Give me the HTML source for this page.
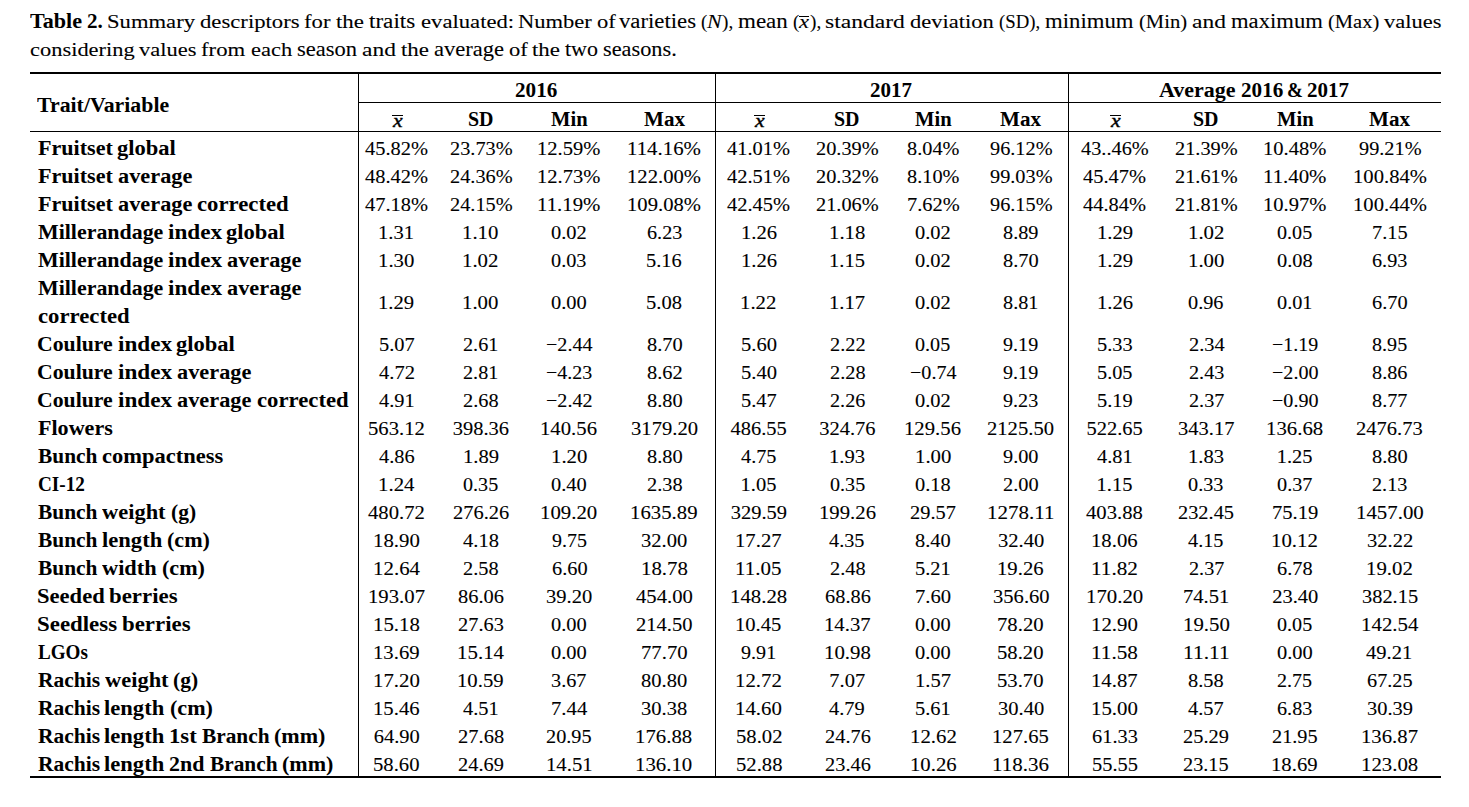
<!DOCTYPE html>
<html><head><meta charset='utf-8'><title>Table 2</title><style>
html,body{margin:0;padding:0;background:#fff;}
body{width:1469px;height:807px;position:relative;overflow:hidden;}
.w{position:absolute;white-space:pre;font-family:'Liberation Serif',serif;font-size:20.5px;line-height:0;color:#000;transform-origin:0 7px;}
.w{-webkit-text-stroke:0.1px #000;}.b{font-weight:700;-webkit-text-stroke:0.0px #000;}.i{font-style:italic;}
.l{position:absolute;background:#000;}
</style></head><body>
<div class='w b' style='left:29.86px;top:20.80px;transform:scale(1.0789,0.9800);'>Table</div>
<div class='w b' style='left:86.88px;top:20.80px;transform:scale(1.0275,0.9710);'>2.</div>
<div class='w' style='left:107.28px;top:20.80px;transform:scale(1.1038,0.9512);'>Summary</div>
<div class='w' style='left:200.04px;top:20.80px;transform:scale(1.1073,0.9600);'>descriptors</div>
<div class='w' style='left:304.32px;top:20.80px;transform:scale(1.1081,0.9600);'>for</div>
<div class='w' style='left:336.05px;top:20.80px;transform:scale(1.1186,0.9600);'>the</div>
<div class='w' style='left:369.31px;top:20.80px;transform:scale(1.1277,1.0133);'>traits</div>
<div class='w' style='left:420.55px;top:20.80px;transform:scale(1.1055,0.9600);'>evaluated:</div>
<div class='w' style='left:518.06px;top:20.80px;transform:scale(1.0998,0.9600);'>Number</div>
<div class='w' style='left:596.97px;top:20.80px;transform:scale(1.0992,0.9600);'>of</div>
<div class='w' style='left:619.31px;top:20.80px;transform:scale(1.1091,1.0133);'>varieties</div>
<div class='w' style='left:701.34px;top:20.80px;transform:scale(0.9286,0.9516);'>(</div>
<div class='w i' style='left:707.38px;top:20.80px;transform:scale(1.0678,0.9600);'>N</div>
<div class='w' style='left:721.91px;top:20.80px;transform:scale(0.9383,0.9516);'>),</div>
<div class='w' style='left:737.94px;top:20.80px;transform:scale(1.1229,1.0223);'>mean</div>
<div class='w' style='left:793.06px;top:20.80px;transform:scale(0.9286,0.9516);'>(</div>
<div class='w i' style='left:799.38px;top:20.90px;transform:scale(1.1027,0.9600);'>x</div>
<div class='l' style='left:799.00px;top:16.10px;width:10.10px;height:1.3px'></div>
<div class='w' style='left:809.57px;top:20.80px;transform:scale(0.9383,0.9516);'>),</div>
<div class='w' style='left:825.38px;top:20.80px;transform:scale(1.1499,0.9600);'>standard</div>
<div class='w' style='left:910.27px;top:20.80px;transform:scale(1.0980,0.9600);'>deviation</div>
<div class='w' style='left:999.20px;top:20.80px;transform:scale(0.9155,0.9516);'>(SD),</div>
<div class='w' style='left:1045.24px;top:20.80px;transform:scale(1.1108,1.0133);'>minimum</div>
<div class='w' style='left:1138.85px;top:20.80px;transform:scale(1.0054,0.9600);'>(Min)</div>
<div class='w' style='left:1192.03px;top:20.80px;transform:scale(1.1441,0.9600);'>and</div>
<div class='w' style='left:1230.96px;top:20.80px;transform:scale(1.1047,1.0133);'>maximum</div>
<div class='w' style='left:1327.86px;top:20.80px;transform:scale(1.0025,0.9516);'>(Max)</div>
<div class='w' style='left:1384.30px;top:20.80px;transform:scale(1.0969,0.9600);'>values</div>
<div class='w' style='left:30.18px;top:48.80px;transform:scale(1.0952,0.9600);'>considering</div>
<div class='w' style='left:139.48px;top:48.80px;transform:scale(1.0969,0.9600);'>values</div>
<div class='w' style='left:201.49px;top:48.80px;transform:scale(1.1093,0.9600);'>from</div>
<div class='w' style='left:250.80px;top:48.80px;transform:scale(1.0959,0.9600);'>each</div>
<div class='w' style='left:296.91px;top:48.80px;transform:scale(1.0981,1.0223);'>season</div>
<div class='w' style='left:362.00px;top:48.80px;transform:scale(1.1441,0.9600);'>and</div>
<div class='w' style='left:401.08px;top:48.80px;transform:scale(1.1186,0.9600);'>the</div>
<div class='w' style='left:434.16px;top:48.80px;transform:scale(1.1004,0.9714);'>average</div>
<div class='w' style='left:509.38px;top:48.80px;transform:scale(1.0992,0.9600);'>of</div>
<div class='w' style='left:531.95px;top:48.80px;transform:scale(1.1186,0.9600);'>the</div>
<div class='w' style='left:565.23px;top:48.80px;transform:scale(1.0711,1.0330);'>two</div>
<div class='w' style='left:603.19px;top:48.80px;transform:scale(1.0878,1.0223);'>seasons.</div>
<div class='w b' style='left:37.36px;top:105.00px;transform:scale(1.0648,0.9886);'>Trait/Variable</div>
<div class='w b' style='left:515.25px;top:89.70px;transform:scale(1.0316,0.9710);'>2016</div>
<div class='w b' style='left:870.26px;top:89.70px;transform:scale(1.0252,0.9710);'>2017</div>
<div class='w b' style='left:1159.12px;top:89.70px;transform:scale(1.0724,0.9709);'>Average</div>
<div class='w b' style='left:1240.57px;top:89.70px;transform:scale(1.0316,0.9710);'>2016</div>
<div class='w b' style='left:1287.45px;top:89.70px;transform:scale(0.9333,0.9710);'>&amp;</div>
<div class='w b' style='left:1307.42px;top:89.70px;transform:scale(1.0252,0.9710);'>2017</div>
<div class='w i' style='left:392.65px;top:119.75px;transform:scale(1.0595,0.9227);-webkit-text-stroke:0.45px #000;'>x</div>
<div class='l' style='left:391.89px;top:115.00px;width:10.80px;height:1.4px'></div>
<div class='w b' style='left:467.97px;top:118.60px;transform:scale(0.9741,0.9710);'>SD</div>
<div class='w b' style='left:551.03px;top:118.60px;transform:scale(1.0035,0.9886);'>Min</div>
<div class='w b' style='left:643.99px;top:118.60px;transform:scale(1.0286,0.9800);'>Max</div>
<div class='w i' style='left:754.96px;top:119.75px;transform:scale(1.0595,0.9227);-webkit-text-stroke:0.45px #000;'>x</div>
<div class='l' style='left:754.20px;top:115.00px;width:10.80px;height:1.4px'></div>
<div class='w b' style='left:834.47px;top:118.60px;transform:scale(0.9741,0.9710);'>SD</div>
<div class='w b' style='left:915.03px;top:118.60px;transform:scale(1.0035,0.9886);'>Min</div>
<div class='w b' style='left:1000.40px;top:118.60px;transform:scale(1.0286,0.9800);'>Max</div>
<div class='w i' style='left:1110.96px;top:119.75px;transform:scale(1.0595,0.9227);-webkit-text-stroke:0.45px #000;'>x</div>
<div class='l' style='left:1110.20px;top:115.00px;width:10.80px;height:1.4px'></div>
<div class='w b' style='left:1193.26px;top:118.60px;transform:scale(0.9741,0.9710);'>SD</div>
<div class='w b' style='left:1276.92px;top:118.60px;transform:scale(1.0035,0.9886);'>Min</div>
<div class='w b' style='left:1369.40px;top:118.60px;transform:scale(1.0286,0.9800);'>Max</div>
<div class='w b' style='left:37.60px;top:147.50px;transform:scale(1.0779,0.9886);'>Fruitset</div>
<div class='w b' style='left:116.93px;top:147.50px;transform:scale(1.0995,0.9800);'>global</div>
<div class='w' style='left:365.00px;top:147.50px;transform:scale(0.9980,0.9512);'>45.82%</div>
<div class='w' style='left:449.69px;top:147.50px;transform:scale(0.9919,0.9512);'>23.73%</div>
<div class='w' style='left:537.23px;top:147.50px;transform:scale(1.0041,0.9512);'>12.59%</div>
<div class='w' style='left:627.09px;top:147.50px;transform:scale(1.0178,0.9512);'>114.16%</div>
<div class='w' style='left:727.31px;top:147.50px;transform:scale(0.9980,0.9512);'>41.01%</div>
<div class='w' style='left:816.19px;top:147.50px;transform:scale(0.9919,0.9512);'>20.39%</div>
<div class='w' style='left:907.09px;top:147.50px;transform:scale(0.9903,0.9512);'>8.04%</div>
<div class='w' style='left:989.62px;top:147.50px;transform:scale(0.9899,0.9512);'>96.12%</div>
<div class='w' style='left:1080.99px;top:147.50px;transform:scale(0.9926,0.9512);'>43..46%</div>
<div class='w' style='left:1174.99px;top:147.50px;transform:scale(0.9919,0.9512);'>21.39%</div>
<div class='w' style='left:1263.12px;top:147.50px;transform:scale(1.0041,0.9512);'>10.48%</div>
<div class='w' style='left:1358.62px;top:147.50px;transform:scale(0.9899,0.9512);'>99.21%</div>
<div class='w b' style='left:37.60px;top:175.50px;transform:scale(1.0779,0.9886);'>Fruitset</div>
<div class='w b' style='left:117.68px;top:175.50px;transform:scale(1.0892,1.0150);'>average</div>
<div class='w' style='left:365.00px;top:175.50px;transform:scale(0.9980,0.9512);'>48.42%</div>
<div class='w' style='left:449.69px;top:175.50px;transform:scale(0.9919,0.9512);'>24.36%</div>
<div class='w' style='left:537.23px;top:175.50px;transform:scale(1.0041,0.9512);'>12.73%</div>
<div class='w' style='left:627.11px;top:175.50px;transform:scale(1.0070,0.9512);'>122.00%</div>
<div class='w' style='left:727.31px;top:175.50px;transform:scale(0.9980,0.9512);'>42.51%</div>
<div class='w' style='left:816.19px;top:175.50px;transform:scale(0.9919,0.9512);'>20.32%</div>
<div class='w' style='left:907.09px;top:175.50px;transform:scale(0.9903,0.9512);'>8.10%</div>
<div class='w' style='left:989.62px;top:175.50px;transform:scale(0.9899,0.9512);'>99.03%</div>
<div class='w' style='left:1083.31px;top:175.50px;transform:scale(0.9980,0.9512);'>45.47%</div>
<div class='w' style='left:1174.99px;top:175.50px;transform:scale(0.9919,0.9512);'>21.61%</div>
<div class='w' style='left:1263.10px;top:175.50px;transform:scale(1.0167,0.9512);'>11.40%</div>
<div class='w' style='left:1352.52px;top:175.50px;transform:scale(1.0070,0.9512);'>100.84%</div>
<div class='w b' style='left:37.60px;top:203.50px;transform:scale(1.0779,0.9886);'>Fruitset</div>
<div class='w b' style='left:117.68px;top:203.50px;transform:scale(1.0892,1.0150);'>average</div>
<div class='w b' style='left:197.40px;top:203.50px;transform:scale(1.1086,0.9800);'>corrected</div>
<div class='w' style='left:365.00px;top:203.50px;transform:scale(0.9980,0.9512);'>47.18%</div>
<div class='w' style='left:449.69px;top:203.50px;transform:scale(0.9919,0.9512);'>24.15%</div>
<div class='w' style='left:537.21px;top:203.50px;transform:scale(1.0167,0.9512);'>11.19%</div>
<div class='w' style='left:627.11px;top:203.50px;transform:scale(1.0070,0.9512);'>109.08%</div>
<div class='w' style='left:727.31px;top:203.50px;transform:scale(0.9980,0.9512);'>42.45%</div>
<div class='w' style='left:816.19px;top:203.50px;transform:scale(0.9919,0.9512);'>21.06%</div>
<div class='w' style='left:906.71px;top:203.50px;transform:scale(0.9975,0.9512);'>7.62%</div>
<div class='w' style='left:989.62px;top:203.50px;transform:scale(0.9899,0.9512);'>96.15%</div>
<div class='w' style='left:1083.31px;top:203.50px;transform:scale(0.9980,0.9512);'>44.84%</div>
<div class='w' style='left:1174.99px;top:203.50px;transform:scale(0.9919,0.9512);'>21.81%</div>
<div class='w' style='left:1263.12px;top:203.50px;transform:scale(1.0041,0.9512);'>10.97%</div>
<div class='w' style='left:1352.52px;top:203.50px;transform:scale(1.0070,0.9512);'>100.44%</div>
<div class='w b' style='left:37.60px;top:231.50px;transform:scale(1.0687,0.9886);'>Millerandage</div>
<div class='w b' style='left:167.76px;top:231.50px;transform:scale(1.1319,0.9886);'>index</div>
<div class='w b' style='left:226.09px;top:231.50px;transform:scale(1.0995,0.9800);'>global</div>
<div class='w' style='left:378.19px;top:231.50px;transform:scale(1.0076,0.9512);'>1.31</div>
<div class='w' style='left:462.49px;top:231.50px;transform:scale(1.0150,0.9512);'>1.10</div>
<div class='w' style='left:551.44px;top:231.50px;transform:scale(0.9963,0.9512);'>0.02</div>
<div class='w' style='left:646.67px;top:231.50px;transform:scale(0.9854,0.9512);'>6.23</div>
<div class='w' style='left:740.50px;top:231.50px;transform:scale(1.0075,0.9512);'>1.26</div>
<div class='w' style='left:828.99px;top:231.50px;transform:scale(1.0150,0.9512);'>1.18</div>
<div class='w' style='left:915.44px;top:231.50px;transform:scale(0.9963,0.9512);'>0.02</div>
<div class='w' style='left:1002.95px;top:231.50px;transform:scale(0.9891,0.9512);'>8.89</div>
<div class='w' style='left:1096.50px;top:231.50px;transform:scale(1.0075,0.9512);'>1.29</div>
<div class='w' style='left:1187.79px;top:231.50px;transform:scale(1.0152,0.9512);'>1.02</div>
<div class='w' style='left:1277.34px;top:231.50px;transform:scale(0.9818,0.9512);'>0.05</div>
<div class='w' style='left:1371.57px;top:231.50px;transform:scale(0.9926,0.9511);'>7.15</div>
<div class='w b' style='left:37.60px;top:259.50px;transform:scale(1.0687,0.9886);'>Millerandage</div>
<div class='w b' style='left:167.76px;top:259.50px;transform:scale(1.1319,0.9886);'>index</div>
<div class='w b' style='left:226.83px;top:259.50px;transform:scale(1.0892,1.0150);'>average</div>
<div class='w' style='left:378.18px;top:259.50px;transform:scale(1.0150,0.9512);'>1.30</div>
<div class='w' style='left:462.49px;top:259.50px;transform:scale(1.0152,0.9512);'>1.02</div>
<div class='w' style='left:551.45px;top:259.50px;transform:scale(0.9891,0.9512);'>0.03</div>
<div class='w' style='left:646.29px;top:259.50px;transform:scale(0.9963,0.9512);'>5.16</div>
<div class='w' style='left:740.50px;top:259.50px;transform:scale(1.0075,0.9512);'>1.26</div>
<div class='w' style='left:829.02px;top:259.50px;transform:scale(1.0000,0.9511);'>1.15</div>
<div class='w' style='left:915.44px;top:259.50px;transform:scale(0.9963,0.9512);'>0.02</div>
<div class='w' style='left:1002.94px;top:259.50px;transform:scale(0.9964,0.9512);'>8.70</div>
<div class='w' style='left:1096.50px;top:259.50px;transform:scale(1.0075,0.9512);'>1.29</div>
<div class='w' style='left:1187.79px;top:259.50px;transform:scale(1.0150,0.9512);'>1.00</div>
<div class='w' style='left:1277.33px;top:259.50px;transform:scale(0.9964,0.9512);'>0.08</div>
<div class='w' style='left:1372.08px;top:259.50px;transform:scale(0.9854,0.9512);'>6.93</div>
<div class='w b' style='left:37.60px;top:287.50px;transform:scale(1.0687,0.9886);'>Millerandage</div>
<div class='w b' style='left:167.76px;top:287.50px;transform:scale(1.1319,0.9886);'>index</div>
<div class='w b' style='left:226.83px;top:287.50px;transform:scale(1.0892,1.0150);'>average</div>
<div class='w b' style='left:37.68px;top:315.50px;transform:scale(1.1086,0.9800);'>corrected</div>
<div class='w' style='left:378.19px;top:301.50px;transform:scale(1.0075,0.9512);'>1.29</div>
<div class='w' style='left:462.49px;top:301.50px;transform:scale(1.0150,0.9512);'>1.00</div>
<div class='w' style='left:551.44px;top:301.50px;transform:scale(0.9964,0.9512);'>0.00</div>
<div class='w' style='left:646.28px;top:301.50px;transform:scale(1.0037,0.9512);'>5.08</div>
<div class='w' style='left:740.49px;top:301.50px;transform:scale(1.0152,0.9512);'>1.22</div>
<div class='w' style='left:829.00px;top:301.50px;transform:scale(1.0075,0.9511);'>1.17</div>
<div class='w' style='left:915.44px;top:301.50px;transform:scale(0.9963,0.9512);'>0.02</div>
<div class='w' style='left:1002.95px;top:301.50px;transform:scale(0.9889,0.9512);'>8.81</div>
<div class='w' style='left:1096.50px;top:301.50px;transform:scale(1.0075,0.9512);'>1.26</div>
<div class='w' style='left:1188.45px;top:301.50px;transform:scale(0.9891,0.9512);'>0.96</div>
<div class='w' style='left:1277.34px;top:301.50px;transform:scale(0.9889,0.9512);'>0.01</div>
<div class='w' style='left:1372.07px;top:301.50px;transform:scale(0.9927,0.9512);'>6.70</div>
<div class='w b' style='left:37.44px;top:343.50px;transform:scale(1.0608,0.9800);'>Coulure</div>
<div class='w b' style='left:118.01px;top:343.50px;transform:scale(1.1319,0.9886);'>index</div>
<div class='w b' style='left:176.34px;top:343.50px;transform:scale(1.0995,0.9800);'>global</div>
<div class='w' style='left:378.58px;top:343.50px;transform:scale(0.9963,0.9512);'>5.07</div>
<div class='w' style='left:463.28px;top:343.50px;transform:scale(0.9852,0.9512);'>2.61</div>
<div class='w' style='left:546.17px;top:343.50px;transform:scale(0.9837,0.9512);'>−2.44</div>
<div class='w' style='left:646.53px;top:343.50px;transform:scale(0.9964,0.9512);'>8.70</div>
<div class='w' style='left:740.89px;top:343.50px;transform:scale(1.0037,0.9512);'>5.60</div>
<div class='w' style='left:829.77px;top:343.50px;transform:scale(0.9926,0.9512);'>2.22</div>
<div class='w' style='left:915.45px;top:343.50px;transform:scale(0.9818,0.9512);'>0.05</div>
<div class='w' style='left:1003.20px;top:343.50px;transform:scale(0.9818,0.9512);'>9.19</div>
<div class='w' style='left:1096.89px;top:343.50px;transform:scale(0.9963,0.9512);'>5.33</div>
<div class='w' style='left:1188.57px;top:343.50px;transform:scale(0.9964,0.9512);'>2.34</div>
<div class='w' style='left:1272.07px;top:343.50px;transform:scale(0.9753,0.9512);'>−1.19</div>
<div class='w' style='left:1371.95px;top:343.50px;transform:scale(0.9818,0.9512);'>8.95</div>
<div class='w b' style='left:37.44px;top:371.50px;transform:scale(1.0608,0.9800);'>Coulure</div>
<div class='w b' style='left:118.01px;top:371.50px;transform:scale(1.1319,0.9886);'>index</div>
<div class='w b' style='left:177.08px;top:371.50px;transform:scale(1.0892,1.0150);'>average</div>
<div class='w' style='left:378.58px;top:371.50px;transform:scale(1.0036,0.9512);'>4.72</div>
<div class='w' style='left:463.28px;top:371.50px;transform:scale(0.9852,0.9512);'>2.81</div>
<div class='w' style='left:546.18px;top:371.50px;transform:scale(0.9753,0.9512);'>−4.23</div>
<div class='w' style='left:646.53px;top:371.50px;transform:scale(0.9963,0.9512);'>8.62</div>
<div class='w' style='left:740.89px;top:371.50px;transform:scale(1.0037,0.9512);'>5.40</div>
<div class='w' style='left:829.77px;top:371.50px;transform:scale(0.9927,0.9512);'>2.28</div>
<div class='w' style='left:910.17px;top:371.50px;transform:scale(0.9837,0.9512);'>−0.74</div>
<div class='w' style='left:1003.20px;top:371.50px;transform:scale(0.9818,0.9512);'>9.19</div>
<div class='w' style='left:1096.90px;top:371.50px;transform:scale(0.9890,0.9512);'>5.05</div>
<div class='w' style='left:1188.58px;top:371.50px;transform:scale(0.9854,0.9512);'>2.43</div>
<div class='w' style='left:1272.07px;top:371.50px;transform:scale(0.9808,0.9512);'>−2.00</div>
<div class='w' style='left:1371.95px;top:371.50px;transform:scale(0.9891,0.9512);'>8.86</div>
<div class='w b' style='left:37.44px;top:399.50px;transform:scale(1.0608,0.9800);'>Coulure</div>
<div class='w b' style='left:118.01px;top:399.50px;transform:scale(1.1319,0.9886);'>index</div>
<div class='w b' style='left:177.08px;top:399.50px;transform:scale(1.0892,1.0150);'>average</div>
<div class='w b' style='left:256.81px;top:399.50px;transform:scale(1.1086,0.9800);'>corrected</div>
<div class='w' style='left:378.58px;top:399.50px;transform:scale(0.9964,0.9512);'>4.91</div>
<div class='w' style='left:463.27px;top:399.50px;transform:scale(0.9927,0.9512);'>2.68</div>
<div class='w' style='left:546.18px;top:399.50px;transform:scale(0.9807,0.9512);'>−2.42</div>
<div class='w' style='left:646.53px;top:399.50px;transform:scale(0.9964,0.9512);'>8.80</div>
<div class='w' style='left:740.89px;top:399.50px;transform:scale(0.9963,0.9511);'>5.47</div>
<div class='w' style='left:829.78px;top:399.50px;transform:scale(0.9855,0.9512);'>2.26</div>
<div class='w' style='left:915.44px;top:399.50px;transform:scale(0.9963,0.9512);'>0.02</div>
<div class='w' style='left:1003.20px;top:399.50px;transform:scale(0.9819,0.9512);'>9.23</div>
<div class='w' style='left:1096.89px;top:399.50px;transform:scale(0.9963,0.9512);'>5.19</div>
<div class='w' style='left:1188.58px;top:399.50px;transform:scale(0.9855,0.9512);'>2.37</div>
<div class='w' style='left:1272.07px;top:399.50px;transform:scale(0.9808,0.9512);'>−0.90</div>
<div class='w' style='left:1371.95px;top:399.50px;transform:scale(0.9891,0.9512);'>8.77</div>
<div class='w b' style='left:37.60px;top:427.50px;transform:scale(1.0765,0.9800);'>Flowers</div>
<div class='w' style='left:368.15px;top:427.50px;transform:scale(1.0092,0.9512);'>563.12</div>
<div class='w' style='left:452.72px;top:427.50px;transform:scale(1.0000,0.9512);'>398.36</div>
<div class='w' style='left:540.37px;top:427.50px;transform:scale(1.0116,0.9512);'>140.56</div>
<div class='w' style='left:630.88px;top:427.50px;transform:scale(1.0077,0.9512);'>3179.20</div>
<div class='w' style='left:730.47px;top:427.50px;transform:scale(1.0000,0.9512);'>486.55</div>
<div class='w' style='left:819.22px;top:427.50px;transform:scale(1.0000,0.9512);'>324.76</div>
<div class='w' style='left:904.37px;top:427.50px;transform:scale(1.0116,0.9512);'>129.56</div>
<div class='w' style='left:987.42px;top:427.50px;transform:scale(1.0058,0.9512);'>2125.50</div>
<div class='w' style='left:1086.47px;top:427.50px;transform:scale(1.0000,0.9512);'>522.65</div>
<div class='w' style='left:1178.02px;top:427.50px;transform:scale(1.0000,0.9512);'>343.17</div>
<div class='w' style='left:1266.25px;top:427.50px;transform:scale(1.0162,0.9512);'>136.68</div>
<div class='w' style='left:1356.42px;top:427.50px;transform:scale(1.0019,0.9512);'>2476.73</div>
<div class='w b' style='left:37.61px;top:455.50px;transform:scale(1.0421,0.9800);'>Bunch</div>
<div class='w b' style='left:102.25px;top:455.50px;transform:scale(1.0971,1.0546);'>compactness</div>
<div class='w' style='left:378.58px;top:455.50px;transform:scale(0.9964,0.9512);'>4.86</div>
<div class='w' style='left:462.50px;top:455.50px;transform:scale(1.0075,0.9512);'>1.89</div>
<div class='w' style='left:550.79px;top:455.50px;transform:scale(1.0150,0.9512);'>1.20</div>
<div class='w' style='left:646.53px;top:455.50px;transform:scale(0.9964,0.9512);'>8.80</div>
<div class='w' style='left:740.89px;top:455.50px;transform:scale(0.9892,0.9511);'>4.75</div>
<div class='w' style='left:829.00px;top:455.50px;transform:scale(1.0075,0.9512);'>1.93</div>
<div class='w' style='left:914.79px;top:455.50px;transform:scale(1.0150,0.9512);'>1.00</div>
<div class='w' style='left:1003.19px;top:455.50px;transform:scale(0.9891,0.9512);'>9.00</div>
<div class='w' style='left:1096.89px;top:455.50px;transform:scale(0.9964,0.9512);'>4.81</div>
<div class='w' style='left:1187.80px;top:455.50px;transform:scale(1.0075,0.9512);'>1.83</div>
<div class='w' style='left:1276.70px;top:455.50px;transform:scale(1.0000,0.9512);'>1.25</div>
<div class='w' style='left:1371.94px;top:455.50px;transform:scale(0.9964,0.9512);'>8.80</div>
<div class='w b' style='left:37.56px;top:483.50px;transform:scale(0.9352,0.9710);'>CI-12</div>
<div class='w' style='left:378.17px;top:483.50px;transform:scale(1.0185,0.9512);'>1.24</div>
<div class='w' style='left:463.15px;top:483.50px;transform:scale(0.9818,0.9512);'>0.35</div>
<div class='w' style='left:551.44px;top:483.50px;transform:scale(0.9964,0.9512);'>0.40</div>
<div class='w' style='left:646.66px;top:483.50px;transform:scale(0.9927,0.9512);'>2.38</div>
<div class='w' style='left:740.52px;top:483.50px;transform:scale(1.0000,0.9512);'>1.05</div>
<div class='w' style='left:829.65px;top:483.50px;transform:scale(0.9818,0.9512);'>0.35</div>
<div class='w' style='left:915.44px;top:483.50px;transform:scale(0.9964,0.9512);'>0.18</div>
<div class='w' style='left:1003.07px;top:483.50px;transform:scale(0.9927,0.9512);'>2.00</div>
<div class='w' style='left:1096.52px;top:483.50px;transform:scale(1.0000,0.9511);'>1.15</div>
<div class='w' style='left:1188.45px;top:483.50px;transform:scale(0.9891,0.9512);'>0.33</div>
<div class='w' style='left:1277.34px;top:483.50px;transform:scale(0.9891,0.9512);'>0.37</div>
<div class='w' style='left:1372.08px;top:483.50px;transform:scale(0.9854,0.9512);'>2.13</div>
<div class='w b' style='left:37.61px;top:511.50px;transform:scale(1.0421,0.9800);'>Bunch</div>
<div class='w b' style='left:101.94px;top:511.50px;transform:scale(1.0948,0.9886);'>weight</div>
<div class='w b' style='left:170.66px;top:511.50px;transform:scale(1.0506,0.9886);'>(g)</div>
<div class='w' style='left:368.15px;top:511.50px;transform:scale(1.0091,0.9512);'>480.72</div>
<div class='w' style='left:452.85px;top:511.50px;transform:scale(0.9977,0.9512);'>276.26</div>
<div class='w' style='left:540.36px;top:511.50px;transform:scale(1.0162,0.9512);'>109.20</div>
<div class='w' style='left:630.24px;top:511.50px;transform:scale(1.0137,0.9512);'>1635.89</div>
<div class='w' style='left:730.72px;top:511.50px;transform:scale(1.0000,0.9512);'>329.59</div>
<div class='w' style='left:818.57px;top:511.50px;transform:scale(1.0116,0.9512);'>199.26</div>
<div class='w' style='left:910.35px;top:511.50px;transform:scale(0.9944,0.9512);'>29.57</div>
<div class='w' style='left:986.63px;top:511.50px;transform:scale(1.0258,0.9512);'>1278.11</div>
<div class='w' style='left:1086.47px;top:511.50px;transform:scale(1.0090,0.9512);'>403.88</div>
<div class='w' style='left:1178.15px;top:511.50px;transform:scale(0.9932,0.9512);'>232.45</div>
<div class='w' style='left:1271.73px;top:511.50px;transform:scale(1.0057,0.9512);'>75.19</div>
<div class='w' style='left:1355.64px;top:511.50px;transform:scale(1.0175,0.9512);'>1457.00</div>
<div class='w b' style='left:37.61px;top:539.50px;transform:scale(1.0421,0.9800);'>Bunch</div>
<div class='w b' style='left:101.90px;top:539.50px;transform:scale(1.1019,0.9800);'>length</div>
<div class='w b' style='left:167.12px;top:539.50px;transform:scale(1.0787,0.9886);'>(cm)</div>
<div class='w' style='left:372.95px;top:539.50px;transform:scale(1.0172,0.9512);'>18.90</div>
<div class='w' style='left:462.89px;top:539.50px;transform:scale(1.0036,0.9512);'>4.18</div>
<div class='w' style='left:551.70px;top:539.50px;transform:scale(0.9746,0.9512);'>9.75</div>
<div class='w' style='left:641.31px;top:539.50px;transform:scale(1.0028,0.9512);'>32.00</div>
<div class='w' style='left:735.28px;top:539.50px;transform:scale(1.0114,0.9512);'>17.27</div>
<div class='w' style='left:829.39px;top:539.50px;transform:scale(0.9892,0.9512);'>4.35</div>
<div class='w' style='left:915.44px;top:539.50px;transform:scale(0.9964,0.9512);'>8.40</div>
<div class='w' style='left:997.72px;top:539.50px;transform:scale(1.0028,0.9512);'>32.40</div>
<div class='w' style='left:1091.28px;top:539.50px;transform:scale(1.0114,0.9512);'>18.06</div>
<div class='w' style='left:1188.19px;top:539.50px;transform:scale(0.9892,0.9511);'>4.15</div>
<div class='w' style='left:1271.45px;top:539.50px;transform:scale(1.0173,0.9512);'>10.12</div>
<div class='w' style='left:1366.72px;top:539.50px;transform:scale(1.0028,0.9512);'>32.22</div>
<div class='w b' style='left:37.61px;top:567.50px;transform:scale(1.0421,0.9800);'>Bunch</div>
<div class='w b' style='left:101.94px;top:567.50px;transform:scale(1.0902,0.9886);'>width</div>
<div class='w b' style='left:161.63px;top:567.50px;transform:scale(1.0787,0.9886);'>(cm)</div>
<div class='w' style='left:372.95px;top:567.50px;transform:scale(1.0198,0.9512);'>12.64</div>
<div class='w' style='left:463.27px;top:567.50px;transform:scale(0.9927,0.9512);'>2.58</div>
<div class='w' style='left:551.57px;top:567.50px;transform:scale(0.9927,0.9512);'>6.60</div>
<div class='w' style='left:640.66px;top:567.50px;transform:scale(1.0172,0.9512);'>18.78</div>
<div class='w' style='left:735.26px;top:567.50px;transform:scale(1.0233,0.9512);'>11.05</div>
<div class='w' style='left:829.77px;top:567.50px;transform:scale(0.9927,0.9512);'>2.48</div>
<div class='w' style='left:915.19px;top:567.50px;transform:scale(0.9963,0.9512);'>5.21</div>
<div class='w' style='left:997.07px;top:567.50px;transform:scale(1.0114,0.9512);'>19.26</div>
<div class='w' style='left:1091.24px;top:567.50px;transform:scale(1.0353,0.9512);'>11.82</div>
<div class='w' style='left:1188.58px;top:567.50px;transform:scale(0.9855,0.9512);'>2.37</div>
<div class='w' style='left:1277.46px;top:567.50px;transform:scale(0.9927,0.9512);'>6.78</div>
<div class='w' style='left:1366.06px;top:567.50px;transform:scale(1.0173,0.9512);'>19.02</div>
<div class='w b' style='left:36.89px;top:595.50px;transform:scale(1.1019,0.9800);'>Seeded</div>
<div class='w b' style='left:109.38px;top:595.50px;transform:scale(1.1152,0.9886);'>berries</div>
<div class='w' style='left:367.76px;top:595.50px;transform:scale(1.0116,0.9512);'>193.07</div>
<div class='w' style='left:457.92px;top:595.50px;transform:scale(0.9972,0.9512);'>86.06</div>
<div class='w' style='left:546.22px;top:595.50px;transform:scale(1.0028,0.9512);'>39.20</div>
<div class='w' style='left:635.86px;top:595.50px;transform:scale(1.0090,0.9512);'>454.00</div>
<div class='w' style='left:730.07px;top:595.50px;transform:scale(1.0162,0.9512);'>148.28</div>
<div class='w' style='left:824.55px;top:595.50px;transform:scale(0.9944,0.9512);'>68.86</div>
<div class='w' style='left:915.05px;top:595.50px;transform:scale(1.0074,0.9512);'>7.60</div>
<div class='w' style='left:992.51px;top:595.50px;transform:scale(1.0046,0.9512);'>356.60</div>
<div class='w' style='left:1086.07px;top:595.50px;transform:scale(1.0162,0.9512);'>170.20</div>
<div class='w' style='left:1182.84px;top:595.50px;transform:scale(1.0057,0.9511);'>74.51</div>
<div class='w' style='left:1272.23px;top:595.50px;transform:scale(1.0000,0.9512);'>23.40</div>
<div class='w' style='left:1361.52px;top:595.50px;transform:scale(0.9954,0.9512);'>382.15</div>
<div class='w b' style='left:36.87px;top:623.50px;transform:scale(1.1159,0.9800);'>Seedless</div>
<div class='w b' style='left:121.78px;top:623.50px;transform:scale(1.1152,0.9886);'>berries</div>
<div class='w' style='left:372.95px;top:623.50px;transform:scale(1.0172,0.9512);'>15.18</div>
<div class='w' style='left:458.05px;top:623.50px;transform:scale(0.9944,0.9512);'>27.63</div>
<div class='w' style='left:551.44px;top:623.50px;transform:scale(0.9964,0.9512);'>0.00</div>
<div class='w' style='left:636.23px;top:623.50px;transform:scale(1.0023,0.9512);'>214.50</div>
<div class='w' style='left:735.29px;top:623.50px;transform:scale(1.0057,0.9512);'>10.45</div>
<div class='w' style='left:823.78px;top:623.50px;transform:scale(1.0114,0.9512);'>14.37</div>
<div class='w' style='left:915.44px;top:623.50px;transform:scale(0.9964,0.9512);'>0.00</div>
<div class='w' style='left:997.33px;top:623.50px;transform:scale(1.0114,0.9512);'>78.20</div>
<div class='w' style='left:1091.27px;top:623.50px;transform:scale(1.0172,0.9512);'>12.90</div>
<div class='w' style='left:1182.56px;top:623.50px;transform:scale(1.0172,0.9512);'>19.50</div>
<div class='w' style='left:1277.34px;top:623.50px;transform:scale(0.9818,0.9512);'>0.05</div>
<div class='w' style='left:1360.86px;top:623.50px;transform:scale(1.0184,0.9512);'>142.54</div>
<div class='w b' style='left:37.65px;top:651.50px;transform:scale(0.9313,0.9710);'>LGOs</div>
<div class='w' style='left:372.96px;top:651.50px;transform:scale(1.0115,0.9512);'>13.69</div>
<div class='w' style='left:457.26px;top:651.50px;transform:scale(1.0198,0.9511);'>15.14</div>
<div class='w' style='left:551.44px;top:651.50px;transform:scale(0.9964,0.9512);'>0.00</div>
<div class='w' style='left:640.92px;top:651.50px;transform:scale(1.0114,0.9512);'>77.70</div>
<div class='w' style='left:741.40px;top:651.50px;transform:scale(0.9816,0.9512);'>9.91</div>
<div class='w' style='left:823.77px;top:651.50px;transform:scale(1.0172,0.9512);'>10.98</div>
<div class='w' style='left:915.44px;top:651.50px;transform:scale(0.9964,0.9512);'>0.00</div>
<div class='w' style='left:997.46px;top:651.50px;transform:scale(1.0085,0.9512);'>58.20</div>
<div class='w' style='left:1091.24px;top:651.50px;transform:scale(1.0350,0.9512);'>11.58</div>
<div class='w' style='left:1182.51px;top:651.50px;transform:scale(1.0480,0.9511);'>11.11</div>
<div class='w' style='left:1277.33px;top:651.50px;transform:scale(0.9964,0.9512);'>0.00</div>
<div class='w' style='left:1366.47px;top:651.50px;transform:scale(1.0028,0.9512);'>49.21</div>
<div class='w b' style='left:37.61px;top:679.50px;transform:scale(1.0493,0.9886);'>Rachis</div>
<div class='w b' style='left:104.53px;top:679.50px;transform:scale(1.0948,0.9886);'>weight</div>
<div class='w b' style='left:173.25px;top:679.50px;transform:scale(1.0506,0.9886);'>(g)</div>
<div class='w' style='left:372.95px;top:679.50px;transform:scale(1.0172,0.9512);'>17.20</div>
<div class='w' style='left:457.28px;top:679.50px;transform:scale(1.0115,0.9512);'>10.59</div>
<div class='w' style='left:551.45px;top:679.50px;transform:scale(0.9891,0.9512);'>3.67</div>
<div class='w' style='left:641.31px;top:679.50px;transform:scale(1.0028,0.9512);'>80.80</div>
<div class='w' style='left:735.27px;top:679.50px;transform:scale(1.0173,0.9512);'>12.72</div>
<div class='w' style='left:829.27px;top:679.50px;transform:scale(1.0000,0.9512);'>7.07</div>
<div class='w' style='left:914.80px;top:679.50px;transform:scale(1.0075,0.9511);'>1.57</div>
<div class='w' style='left:997.46px;top:679.50px;transform:scale(1.0085,0.9512);'>53.70</div>
<div class='w' style='left:1091.28px;top:679.50px;transform:scale(1.0114,0.9512);'>14.87</div>
<div class='w' style='left:1188.44px;top:679.50px;transform:scale(0.9964,0.9512);'>8.58</div>
<div class='w' style='left:1277.47px;top:679.50px;transform:scale(0.9781,0.9512);'>2.75</div>
<div class='w' style='left:1366.85px;top:679.50px;transform:scale(0.9888,0.9512);'>67.25</div>
<div class='w b' style='left:37.61px;top:707.50px;transform:scale(1.0493,0.9886);'>Rachis</div>
<div class='w b' style='left:104.49px;top:707.50px;transform:scale(1.1019,0.9800);'>length</div>
<div class='w b' style='left:169.71px;top:707.50px;transform:scale(1.0787,0.9886);'>(cm)</div>
<div class='w' style='left:372.96px;top:707.50px;transform:scale(1.0114,0.9512);'>15.46</div>
<div class='w' style='left:462.89px;top:707.50px;transform:scale(0.9964,0.9511);'>4.51</div>
<div class='w' style='left:551.05px;top:707.50px;transform:scale(1.0109,0.9511);'>7.44</div>
<div class='w' style='left:641.31px;top:707.50px;transform:scale(1.0028,0.9512);'>30.38</div>
<div class='w' style='left:735.27px;top:707.50px;transform:scale(1.0172,0.9512);'>14.60</div>
<div class='w' style='left:829.39px;top:707.50px;transform:scale(0.9964,0.9512);'>4.79</div>
<div class='w' style='left:915.19px;top:707.50px;transform:scale(0.9963,0.9512);'>5.61</div>
<div class='w' style='left:997.72px;top:707.50px;transform:scale(1.0028,0.9512);'>30.40</div>
<div class='w' style='left:1091.27px;top:707.50px;transform:scale(1.0172,0.9512);'>15.00</div>
<div class='w' style='left:1188.19px;top:707.50px;transform:scale(0.9964,0.9511);'>4.57</div>
<div class='w' style='left:1277.47px;top:707.50px;transform:scale(0.9854,0.9512);'>6.83</div>
<div class='w' style='left:1366.72px;top:707.50px;transform:scale(0.9972,0.9512);'>30.39</div>
<div class='w b' style='left:37.61px;top:735.50px;transform:scale(1.0493,0.9886);'>Rachis</div>
<div class='w b' style='left:104.49px;top:735.50px;transform:scale(1.1019,0.9800);'>length</div>
<div class='w b' style='left:168.73px;top:735.50px;transform:scale(1.1070,0.9709);'>1st</div>
<div class='w b' style='left:201.70px;top:735.50px;transform:scale(1.0409,0.9800);'>Branch</div>
<div class='w b' style='left:274.36px;top:735.50px;transform:scale(1.0759,0.9886);'>(mm)</div>
<div class='w' style='left:373.73px;top:735.50px;transform:scale(1.0000,0.9512);'>64.90</div>
<div class='w' style='left:458.05px;top:735.50px;transform:scale(1.0000,0.9512);'>27.68</div>
<div class='w' style='left:546.35px;top:735.50px;transform:scale(0.9888,0.9512);'>20.95</div>
<div class='w' style='left:635.46px;top:735.50px;transform:scale(1.0162,0.9512);'>176.88</div>
<div class='w' style='left:735.66px;top:735.50px;transform:scale(1.0085,0.9512);'>58.02</div>
<div class='w' style='left:824.55px;top:735.50px;transform:scale(0.9944,0.9512);'>24.76</div>
<div class='w' style='left:909.56px;top:735.50px;transform:scale(1.0173,0.9512);'>12.62</div>
<div class='w' style='left:991.88px;top:735.50px;transform:scale(1.0070,0.9512);'>127.65</div>
<div class='w' style='left:1092.05px;top:735.50px;transform:scale(0.9944,0.9512);'>61.33</div>
<div class='w' style='left:1183.35px;top:735.50px;transform:scale(0.9944,0.9512);'>25.29</div>
<div class='w' style='left:1272.24px;top:735.50px;transform:scale(0.9888,0.9512);'>21.95</div>
<div class='w' style='left:1360.87px;top:735.50px;transform:scale(1.0116,0.9512);'>136.87</div>
<div class='w b' style='left:37.61px;top:763.50px;transform:scale(1.0493,0.9886);'>Rachis</div>
<div class='w b' style='left:104.49px;top:763.50px;transform:scale(1.1019,0.9800);'>length</div>
<div class='w b' style='left:169.47px;top:763.50px;transform:scale(1.0706,0.9800);'>2nd</div>
<div class='w b' style='left:209.72px;top:763.50px;transform:scale(1.0409,0.9800);'>Branch</div>
<div class='w b' style='left:282.37px;top:763.50px;transform:scale(1.0759,0.9886);'>(mm)</div>
<div class='w' style='left:373.35px;top:763.50px;transform:scale(1.0085,0.9512);'>58.60</div>
<div class='w' style='left:458.05px;top:763.50px;transform:scale(0.9944,0.9512);'>24.69</div>
<div class='w' style='left:545.57px;top:763.50px;transform:scale(1.0116,0.9511);'>14.51</div>
<div class='w' style='left:635.46px;top:763.50px;transform:scale(1.0162,0.9512);'>136.10</div>
<div class='w' style='left:735.66px;top:763.50px;transform:scale(1.0085,0.9512);'>52.88</div>
<div class='w' style='left:824.55px;top:763.50px;transform:scale(0.9944,0.9512);'>23.46</div>
<div class='w' style='left:909.57px;top:763.50px;transform:scale(1.0114,0.9512);'>10.26</div>
<div class='w' style='left:991.85px;top:763.50px;transform:scale(1.0258,0.9512);'>118.36</div>
<div class='w' style='left:1091.68px;top:763.50px;transform:scale(0.9972,0.9600);'>55.55</div>
<div class='w' style='left:1183.35px;top:763.50px;transform:scale(0.9888,0.9512);'>23.15</div>
<div class='w' style='left:1271.46px;top:763.50px;transform:scale(1.0115,0.9512);'>18.69</div>
<div class='w' style='left:1360.86px;top:763.50px;transform:scale(1.0162,0.9512);'>123.08</div>
<div class='l' style='left:30px;top:72px;width:1411px;height:2px'></div>
<div class='l' style='left:358px;top:102px;width:1083px;height:1px'></div>
<div class='l' style='left:30px;top:131px;width:1411px;height:1px'></div>
<div class='l' style='left:30px;top:776px;width:1411px;height:2px'></div>
<div class='l' style='left:358px;top:74px;width:1px;height:702px'></div>
<div class='l' style='left:715px;top:74px;width:1px;height:702px'></div>
<div class='l' style='left:1068px;top:74px;width:1px;height:702px'></div>
</body></html>
